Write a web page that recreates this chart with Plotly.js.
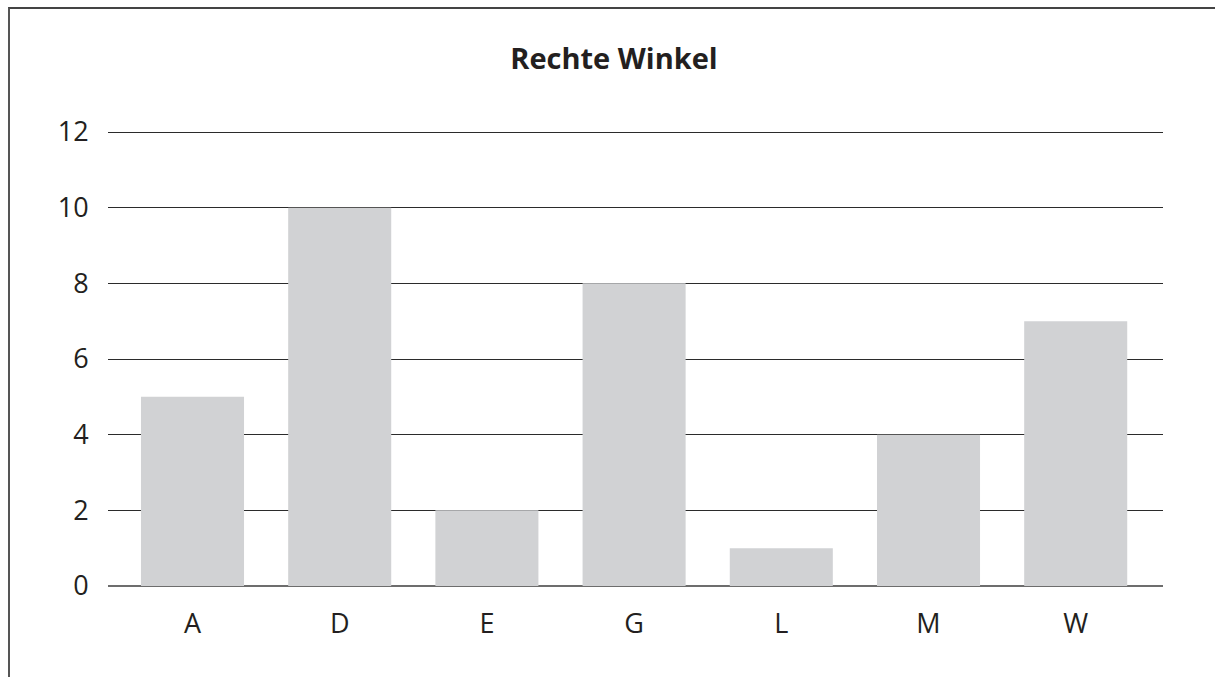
<!DOCTYPE html>
<html>
<head>
<meta charset="utf-8">
<script src="https://cdn.plot.ly/plotly-3.0.1.min.js"></script>
<style>
  html, body { margin: 0; padding: 0; background: #fff; }
  #wrap { position: relative; width: 1215px; height: 677px; }
  #chart { position: absolute; left: 0; top: 0; width: 1215px; height: 677px; }
  #frame { position: absolute; left: 8px; top: 7px; width: 1220px; height: 690px;
           border-left: 2px solid #555; border-top: 2px solid #444; pointer-events: none; }
</style>
</head>
<body>
<div id="wrap">
  <div id="chart"></div>
  <div id="frame"></div>
</div>
<script>
const categories = ["A", "D", "E", "G", "L", "M", "W"];
const values = [5, 10, 2, 8, 1, 4, 7];
const yTicks = [0, 2, 4, 6, 8, 10, 12];
const chartTitle = "Rechte Winkel";

const font = "'Open Sans', 'Noto Sans', sans-serif";

Plotly.newPlot("chart", [{
  type: "bar",
  x: categories,
  y: values,
  marker: { color: "#d1d2d4", line: { width: 0 } },
  hoverinfo: "x+y"
}], {
  width: 1215,
  height: 677,
  paper_bgcolor: "rgba(0,0,0,0)",
  plot_bgcolor: "rgba(0,0,0,0)",
  margin: { l: 108, r: 52, t: 128, b: 91, pad: 0 },
  bargap: 0.3,
  showlegend: false,
  font: { family: font, color: "#231f20" },
  title: {
    text: "<b>" + chartTitle + "</b>",
    font: { family: font, size: 29, color: "#231f20" },
    x: 614 / 1215, xref: "container", xanchor: "center",
    y: 1 - 59 / 677, yref: "container", yanchor: "middle"
  },
  xaxis: {
    type: "category",
    range: [-0.574, 6.593],
    showgrid: false,
    zeroline: false,
    showline: false,
    ticks: "outside",
    ticklen: 14,
    tickcolor: "rgba(0,0,0,0)",
    tickfont: { family: font, size: 27, color: "#231f20" },
    fixedrange: true
  },
  yaxis: {
    range: [0, 12 * 458 / 454],
    tickvals: yTicks,
    ticktext: yTicks.map(String),
    showgrid: true,
    gridcolor: "#2b2b2b",
    gridwidth: 1,
    zeroline: true,
    zerolinecolor: "#6d6d6d",
    zerolinewidth: 2,
    showline: false,
    ticks: "outside",
    ticklen: 13,
    tickcolor: "rgba(0,0,0,0)",
    tickfont: { family: font, size: 27, color: "#231f20" },
    fixedrange: true
  }
}, { displayModeBar: false });
</script>
</body>
</html>
